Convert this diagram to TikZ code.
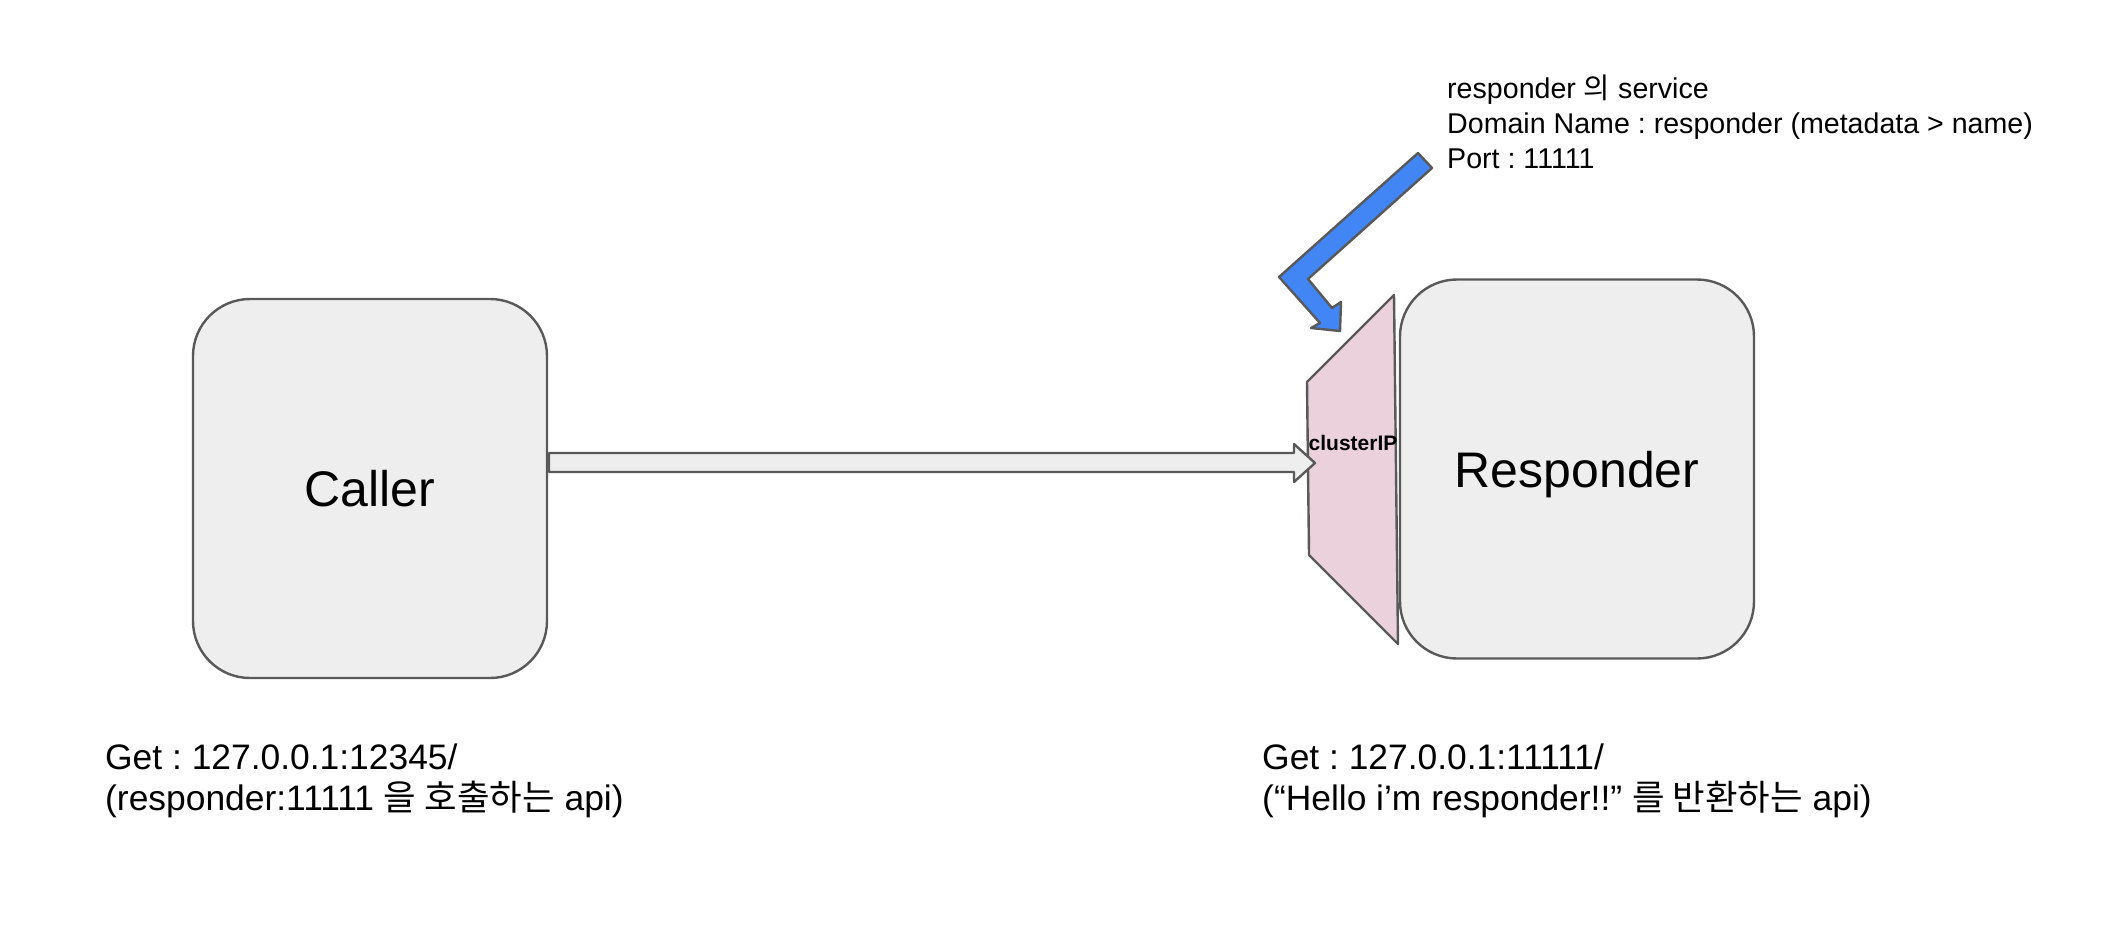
\documentclass[tikz,border=0pt]{standalone}
\usepackage{fontspec}
\setmainfont{Liberation Sans}
\newfontfamily\kr{Noto Sans CJK KR}
\frenchspacing
\definecolor{boxfill}{HTML}{EEEEEE}
\definecolor{edge}{HTML}{595959}
\definecolor{svcpink}{HTML}{EAD1DC}
\definecolor{gblue}{HTML}{4285F4}
\tikzset{
  box/.style={draw=edge, fill=boxfill, line width=2.4pt, rounded corners=57pt,
    minimum width=354pt, minimum height=379pt, inner sep=0pt, text depth=0pt,
    font=\fontsize{50}{60}\selectfont},
  shapeline/.style={draw=edge, line width=2.4pt, line join=round},
  toptxt/.style={anchor=base west, inner sep=0pt, font=\fontsize{28.6}{35}\selectfont},
  bottxt/.style={anchor=base west, inner sep=0pt, font=\fontsize{35.4}{42}\selectfont},
}
\begin{document}
\begin{tikzpicture}[x=1pt, y=-1pt]
\useasboundingbox (0,0) rectangle (2116,950);
% boxes
\node[box] (caller) at (370,488.5) {Caller};
\node[box] (responder) at (1577,469) {Responder};
% service trapezoid
\coordinate (s1) at (1394,295);
\coordinate (s2) at (1398,644);
\coordinate (s3) at (1309,555);
\coordinate (s4) at (1307,382);
\path[shapeline, fill=svcpink] (s1) -- (s2) -- (s3) -- (s4) -- cycle;
\node[anchor=base, inner sep=0pt, font=\bfseries\fontsize{21}{25}\selectfont] (cip) at (1353,450) {clusterIP};
% main arrow from caller to service
\coordinate (a1) at (549,453);
\coordinate (a2) at (1294,453);
\coordinate (a3) at (1294,444);
\coordinate (a4) at (1315,463);
\coordinate (a5) at (1294,482);
\coordinate (a6) at (1294,472);
\coordinate (a7) at (549,472);
\path[shapeline, fill=boxfill] (a1) -- (a2) -- (a3) -- (a4) -- (a5) -- (a6) -- (a7) -- cycle;
% blue bent arrow
\coordinate (b1) at (1418,153);
\coordinate (b2) at (1432,168);
\coordinate (b3) at (1308,279);
\coordinate (b4) at (1332,308);
\coordinate (b5) at (1341,302);
\coordinate (b6) at (1340,331);
\coordinate (b7) at (1311,328);
\coordinate (b8) at (1320,323);
\coordinate (b9) at (1279,277);
\path[shapeline, fill=gblue] (b1) -- (b2) -- (b3) -- (b4) -- (b5) -- (b6) -- (b7) -- (b8) -- (b9) -- cycle;
% service note
\node[toptxt] (t1) at (1447,98) {responder {\kr 의} service};
\node[toptxt] (t2) at (1447,133) {Domain Name : responder (metadata > name)};
\node[toptxt] (t3) at (1447,168) {Port : 11111};
% bottom notes
\node[bottxt] (l1) at (105,769) {Get : 127.0.0.1:12345/};
\node[bottxt] (l2) at (105,810) {(responder:11111 {\kr 을 호출하는} api)};
\node[bottxt] (r1) at (1262,769) {Get : 127.0.0.1:11111/};
\node[bottxt] (r2) at (1262,810) {(“Hello i’m responder!!” {\kr 를 반환하는} api)};
\end{tikzpicture}
\end{document}
